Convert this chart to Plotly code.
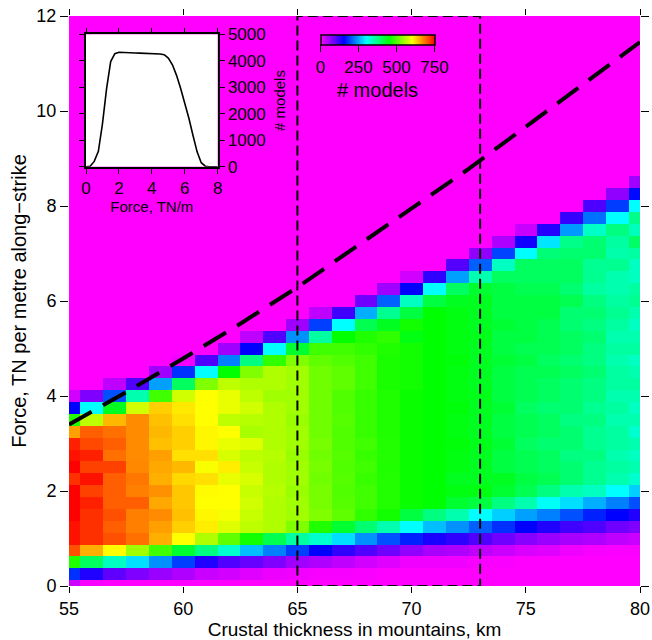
import plotly.graph_objects as go

# ---------------- data ----------------
thickness_km = [55, 56, 57, 58, 59, 60, 61, 62, 63, 64, 65, 66, 67, 68, 69, 70,
                71, 72, 73, 74, 75, 76, 77, 78, 79, 80]
force_bins = [0, 0.25, 0.5, 0.75, 1, 1.25, 1.5, 1.75, 2, 2.25, 2.5, 2.75, 3, 3.25,
              3.5, 3.75, 4, 4.25, 4.5, 4.75, 5, 5.25, 5.5, 5.75, 6, 6.25, 6.5, 6.75,
              7, 7.25, 7.5, 7.75, 8, 8.25, 8.5, 8.75, 9, 9.25, 9.5, 9.75, 10, 10.25,
              10.5, 10.75, 11, 11.25, 11.5, 11.75, 12]

# number of models per cell, one list per crustal thickness, from force = 0 upward
n_55 = [30, 178, 469, 703, 740, 740, 750, 750, 750, 722, 750, 740, 731, 656, 469, 150, 27]
n_56 = [5, 131, 394, 647, 722, 722, 722, 731, 712, 740, 712, 731, 707, 694, 562, 300, 75]
n_57 = [0, 94, 337, 600, 703, 694, 703, 694, 694, 694, 712, 684, 694, 684, 642, 431, 197, 37]
n_58 = [0, 75, 281, 544, 684, 675, 675, 694, 675, 680, 670, 668, 668, 668, 668, 572, 347, 103]
n_59 = [0, 60, 235, 487, 647, 656, 668, 651, 665, 647, 651, 656, 637, 642, 637, 628, 487, 244, 56]
n_60 = [0, 47, 187, 422, 600, 628, 637, 633, 633, 623, 642, 618, 628, 628, 618, 613, 572, 394, 178, 8]
n_61 = [0, 32, 131, 375, 553, 610, 605, 600, 602, 618, 597, 618, 605, 605, 600, 600, 600, 525, 300, 103]
n_62 = [0, 27, 103, 328, 506, 581, 594, 600, 600, 587, 610, 577, 587, 600, 562, 587, 587, 562, 450, 225, 56]
n_63 = [0, 18, 90, 262, 460, 562, 567, 572, 567, 577, 567, 562, 581, 548, 557, 572, 562, 553, 525, 375, 150, 37]
n_64 = [0, 10, 75, 225, 403, 553, 553, 553, 557, 553, 553, 557, 553, 553, 553, 553, 544, 553, 553, 478, 300, 103]
n_65 = [0, 8, 56, 187, 356, 525, 544, 544, 540, 544, 544, 540, 544, 544, 540, 544, 544, 544, 544, 525, 422, 235, 56]
n_66 = [0, 5, 47, 150, 328, 469, 525, 520, 520, 516, 520, 516, 520, 516, 516, 516, 516, 516, 516, 506, 487, 356, 187, 37]
n_67 = [0, 5, 37, 122, 281, 422, 506, 500, 497, 500, 497, 500, 497, 497, 500, 497, 497, 506, 506, 497, 487, 450, 300, 113]
n_68 = [0, 3, 27, 103, 235, 384, 478, 487, 487, 482, 487, 482, 487, 482, 482, 482, 482, 487, 487, 487, 478, 469, 403, 253, 85]
n_69 = [0, 0, 18, 85, 197, 347, 460, 470, 470, 470, 469, 470, 470, 469, 469, 469, 469, 465, 465, 465, 469, 478, 431, 365, 206, 56]
n_70 = [0, 0, 9, 65, 169, 300, 412, 455, 455, 455, 455, 455, 455, 455, 455, 455, 455, 460, 460, 460, 460, 440, 460, 412, 337, 150, 27]
n_71 = [0, 0, 9, 52, 135, 262, 375, 450, 450, 450, 450, 450, 450, 450, 450, 450, 450, 450, 450, 450, 450, 450, 450, 450, 412, 300, 122]
n_72 = [0, 0, 9, 47, 122, 235, 347, 422, 440, 431, 440, 440, 445, 440, 440, 445, 440, 440, 440, 445, 440, 440, 440, 440, 431, 394, 244, 100]
n_73 = [0, 0, 5, 37, 103, 206, 300, 412, 440, 431, 431, 431, 435, 431, 431, 431, 435, 431, 431, 431, 431, 435, 431, 431, 431, 422, 347, 206, 65]
n_74 = [0, 0, 3, 32, 85, 178, 272, 375, 422, 431, 412, 412, 420, 412, 412, 420, 412, 412, 412, 420, 412, 412, 420, 412, 412, 412, 394, 337, 190, 47]
n_75 = [0, 0, 0, 22, 70, 150, 244, 347, 403, 412, 403, 403, 394, 403, 403, 394, 403, 403, 403, 412, 403, 412, 412, 412, 412, 403, 394, 394, 300, 140, 32]
n_76 = [0, 0, 0, 18, 60, 131, 225, 305, 375, 403, 394, 394, 384, 394, 394, 384, 394, 394, 403, 394, 403, 403, 403, 412, 412, 403, 394, 394, 380, 285, 128]
n_77 = [0, 0, 0, 9, 52, 113, 197, 281, 347, 384, 384, 375, 384, 384, 375, 384, 384, 384, 394, 384, 394, 394, 384, 384, 403, 384, 394, 394, 385, 370, 240, 118]
n_78 = [0, 0, 0, 5, 47, 103, 169, 253, 337, 365, 365, 375, 365, 365, 375, 365, 375, 375, 384, 375, 375, 384, 375, 384, 375, 356, 365, 365, 385, 384, 333, 216, 105]
n_79 = [0, 0, 0, 3, 37, 85, 150, 225, 300, 347, 356, 347, 356, 356, 347, 356, 347, 356, 356, 347, 356, 347, 356, 365, 356, 347, 347, 365, 350, 356, 375, 300, 185, 65]
n_80 = [0, 0, 0, 3, 32, 75, 131, 197, 272, 328, 347, 337, 347, 328, 347, 337, 347, 356, 347, 337, 356, 347, 337, 347, 365, 356, 337, 337, 355, 390, 340, 370, 300, 155, 56]

# dashed reference curve
curve_thickness = [55, 57.5, 60, 62.5, 65, 67.5, 70, 72.5, 75, 77.5, 80]
curve_force = [3.40, 4.08, 4.79, 5.52, 6.29, 7.11, 7.95, 8.78, 9.66, 10.56, 11.45]

# dashed box
box_thickness = [65, 73]
box_force = [0, 12]

# inset: distribution of force
inset_force = [0, 0.25, 0.5, 0.75, 1, 1.25, 1.5, 1.75, 2, 2.25, 2.5, 2.75, 3, 3.25, 3.5,
               3.75, 4, 4.25, 4.5, 4.75, 5, 5.25, 5.5, 5.75, 6, 6.25, 6.5, 6.75, 7, 7.25,
               7.5, 7.75, 8]
inset_models = [0, 20, 200, 580, 1620, 2950, 3970, 4270, 4320, 4320, 4310, 4300, 4295,
                4290, 4285, 4275, 4270, 4265, 4255, 4230, 4100, 3850, 3450, 2950, 2400,
                1830, 1180, 560, 150, 20, 0, 0, 0]

colorbar_ticks = [0, 250, 500, 750]
x_ticks = [55, 60, 65, 70, 75, 80]
y_ticks = [0, 2, 4, 6, 8, 10, 12]
inset_x_ticks = [0, 2, 4, 6, 8]
inset_y_ticks = [0, 1000, 2000, 3000, 4000, 5000]

# ---------------- build ----------------
columns = [n_55, n_56, n_57, n_58, n_59, n_60, n_61, n_62, n_63, n_64, n_65, n_66, n_67,
           n_68, n_69, n_70, n_71, n_72, n_73, n_74, n_75, n_76, n_77, n_78, n_79, n_80]
z = [[col[r] if r < len(col) else 0 for col in columns] for r in range(len(force_bins))]

rainbow = [[0.0, '#ff00ff'], [0.2, '#0000ff'], [0.4, '#00ffff'],
           [0.6, '#00ff00'], [0.8, '#ffff00'], [1.0, '#ff0000']]

FONT = 'Liberation Sans, Arial, Helvetica, sans-serif'
L, R, T, B = 69, 12, 16, 54
W, H = 652, 640
pw, ph = W - L - R, H - T - B


def px_x(p):
    return (p - L) / pw


def px_y(p):
    return (H - B - p) / ph


fig = go.Figure()
fig.add_trace(go.Heatmap(
    x=thickness_km, y=force_bins, z=z, zmin=0, zmax=750, colorscale=rainbow,
    zsmooth=False, hoverinfo='skip',
    colorbar=dict(
        orientation='h', x=px_x(377.5), xanchor='center', y=px_y(34.7), yanchor='top',
        len=114, lenmode='pixels', thickness=10, thicknessmode='pixels',
        xpad=0, ypad=0, outlinewidth=1.5, outlinecolor='black',
        ticks='outside', ticklen=7, tickwidth=1.2, tickcolor='black',
        tickvals=colorbar_ticks, tickfont=dict(size=17, color='black', family=FONT),
        title=dict(text='# models', side='bottom', font=dict(size=20, color='black', family=FONT)),
    ),
))
fig.add_trace(go.Scatter(
    x=curve_thickness, y=curve_force, mode='lines', hoverinfo='skip',
    line=dict(color='black', width=4, dash='26px,13px'), showlegend=False,
))
fig.add_shape(type='rect', xref='x', yref='y',
              x0=box_thickness[0], x1=box_thickness[1], y0=box_force[0], y1=box_force[1],
              line=dict(color='black', width=2, dash='10px,5px'), layer='above')

fig.add_shape(type='rect', xref='x2 domain', yref='y2 domain', x0=0, x1=1, y0=0, y1=1,
              fillcolor='white', line=dict(width=0), layer='below')
fig.add_trace(go.Scatter(
    x=inset_force, y=inset_models, xaxis='x2', yaxis='y2', mode='lines',
    line=dict(color='black', width=1.6), hoverinfo='skip', showlegend=False,
))

axis_common = dict(showgrid=False, zeroline=False, showline=False, ticks='outside',
                   tickwidth=1, tickcolor='black', mirror='ticks',
                   automargin=False, tickfont=dict(size=18, color='black', family=FONT))

fig.update_layout(
    width=W, height=H, template='none',
    margin=dict(l=L, r=R, t=T, b=B, autoexpand=False),
    paper_bgcolor='white', plot_bgcolor='white',
    font=dict(family=FONT, color='black'),
    showlegend=False,
    xaxis=dict(range=[55, 80], tickvals=x_ticks, domain=[0, 1], ticklen=6,
               title=dict(text='Crustal thickness in mountains, km',
                          font=dict(size=19, color='black', family=FONT), standoff=7),
               **axis_common),
    yaxis=dict(range=[0, 12], tickvals=y_ticks, domain=[0, 1], ticklen=8,
               title=dict(text='Force, TN per metre along\u2212strike',
                          font=dict(size=20, color='black', family=FONT), standoff=4),
               **axis_common),
    xaxis2=dict(domain=[px_x(86), px_x(217.7)], anchor='y2', range=[0, 8],
                tickvals=inset_x_ticks, showgrid=False, zeroline=False,
                showline=True, linecolor='black', linewidth=1.6, mirror='ticks',
                ticks='outside', ticklen=5, tickcolor='black', automargin=False,
                tickfont=dict(size=17, color='black', family=FONT),
                title=dict(text='Force, TN/m', font=dict(size=15, color='black', family=FONT),
                           standoff=2)),
    yaxis2=dict(domain=[px_y(166.7), px_y(34.3)], anchor='x2', side='right', range=[0, 5000],
                tickvals=inset_y_ticks, showgrid=False, zeroline=False,
                showline=True, linecolor='black', linewidth=1.6, mirror='ticks',
                ticks='outside', ticklen=5, tickcolor='black', automargin=False,
                tickfont=dict(size=17, color='black', family=FONT),
                title=dict(text='# models', font=dict(size=15, color='black', family=FONT),
                           standoff=10)),
)

fig.write_html('out.html')
